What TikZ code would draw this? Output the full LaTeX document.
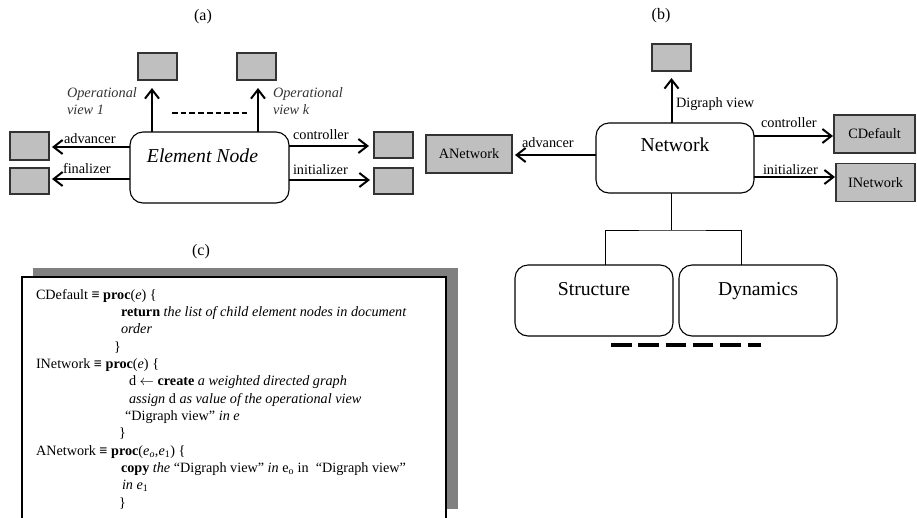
\documentclass[tikz,border=0pt]{standalone}
\usepackage{fontspec}
\setmainfont{Liberation Serif}
\usetikzlibrary{arrows.meta,calc}
\begin{document}
\begin{tikzpicture}[x=1pt,y=-1pt,
  every node/.style={inner sep=0pt, outer sep=0pt},
  small/.style={font=\fontsize{14.3}{17.3}\selectfont},
  bigf/.style={font=\fontsize{19.7}{23}\selectfont},
  capt/.style={font=\fontsize{16}{19}\selectfont},
  gbox/.style={draw=black!80, fill=black!25, line width=1.1pt, small},
  rbox/.style={draw=black, rounded corners=13pt, line width=1.1pt, bigf},
  conn/.style={line width=2pt, -{Straight Barb[length=9pt,width=14pt,line width=2pt]}},
  lnk/.style={line width=0.9pt},
  lbl/.style={small, anchor=base west},
  oplbl/.style={small, anchor=base west, text=black!80, font=\fontsize{14.3}{17.3}\selectfont\itshape},
  code/.style={font=\fontsize{14.2}{17.3}\selectfont, anchor=base west},
]
\useasboundingbox (0,0) rectangle (917,517);

% ---------------- (a) ----------------
\node[capt] (capa) at (203,17) {(a)};
\node[gbox, minimum width=39pt, minimum height=27pt] (at1) at (157.5,66.5) {};
\node[gbox, minimum width=39pt, minimum height=27pt] (at2) at (256.5,66.5) {};
\node[gbox, minimum width=39pt, minimum height=28pt] (al1) at (29.5,146) {};
\node[gbox, minimum width=39pt, minimum height=26pt] (al2) at (29.5,181) {};
\node[gbox, minimum width=39pt, minimum height=26pt] (ar1) at (393.5,145) {};
\node[gbox, minimum width=39pt, minimum height=26pt] (ar2) at (393.5,181) {};
\node[rbox, minimum width=159pt, minimum height=71pt, text height=30.5pt, text depth=40.5pt,
      font=\fontsize{19.7}{23}\selectfont\itshape] (ael) at (209.5,167.5) {\kern-14pt Element Node};

\draw[conn] (ael.north -| 152,0) -- ($(at1.south -| 152,0)+(0,8)$);
\draw[conn] (ael.north -| 258,0) -- ($(at2.south -| 258,0)+(0,8)$);
\draw[line width=2pt, dash pattern=on 5.7pt off 3pt] (172,113) -- (247,113);
\draw[conn] (ael.west |- 0,147) -- ($(al1.east |- 0,147)+(3,0)$);
\draw[conn] (ael.west |- 0,179) -- ($(al2.east |- 0,179)+(3,0)$);
\draw[conn] (ael.east |- 0,146) -- ($(ar1.west |- 0,146)+(-5,0)$);
\draw[conn] (ael.east |- 0,180) -- ($(ar2.west |- 0,180)+(-4,0)$);

\node[oplbl] (op1a) at (67,97) {Operational};
\node[oplbl] (op1b) at (67,114) {view 1};
\node[oplbl] (opka) at (273,97) {Operational};
\node[oplbl] (opkb) at (273,114) {view k};
\node[lbl] (aadv) at (64,143) {advancer};
\node[lbl] (afin) at (63,173) {finalizer};
\node[lbl] (acon) at (293,139.5) {controller};
\node[lbl] (aini) at (293,174) {initializer};

% ---------------- (b) ----------------
\node[capt] (capb) at (661,16) {(b)};
\node[gbox, minimum width=39pt, minimum height=27pt] (btop) at (671.5,57.5) {};
\node[gbox, minimum width=86pt, minimum height=38pt] (ban) at (469,154) {ANetwork};
\node[gbox, minimum width=81pt, minimum height=38pt] (bcd) at (874.5,134) {CDefault};
\node[gbox, minimum width=79pt, minimum height=38pt] (bin) at (875.5,182.5) {INetwork};
\node[rbox, minimum width=158pt, minimum height=70pt, text height=28.5pt, text depth=41.5pt] (bnet) at (675,158) {Network};
\node[rbox, minimum width=158pt, minimum height=71pt, text height=30pt, text depth=41pt] (bst) at (594,300.5) {Structure};
\node[rbox, minimum width=158pt, minimum height=71pt, text height=30pt, text depth=41pt] (bdy) at (758,300.5) {Dynamics};

\draw[conn] (bnet.north -| btop.south) -- ($(btop.south)+(0,7)$);
\draw[conn] (bnet.west |- 0,155) -- ($(ban.east |- 0,155)+(3,0)$);
\draw[conn] (bnet.east |- 0,136) -- ($(bcd.west |- 0,136)+(-1,0)$);
\draw[conn] (bnet.east |- 0,177) -- ($(bin.west |- 0,177)+(-1,0)$);
\draw[lnk] (bnet.south -| btop.south) -- ++(0,37) coordinate (bj);
\draw[lnk] (bst.north -| 605,0) |- (bj) -| (bdy.north -| 741,0);
\draw[line width=4pt, dash pattern=on 20.5pt off 6.8pt] (611,345) -- (761,345);

\node[lbl] (bdg) at (676,107) {Digraph view};
\node[lbl] (badv) at (522,147) {advancer};
\node[lbl] (bcon) at (761,127) {controller};
\node[lbl] (bini) at (763,174) {initializer};

% ---------------- (c) ----------------
\node[capt] (capc) at (201,252) {(c)};
\fill[black!50] (33,268) rectangle (458,509);
\filldraw[fill=white, draw=black, line width=1.3pt] (22,277) rectangle (446,530);

\node[code] (c1) at (36,299) {CDefault \textbf{≡} \textbf{proc}(\textit{e}) \{};
\node[code] (c2) at (121,316.3) {\textbf{return} \textit{the list of child element nodes in document}};
\node[code] (c3) at (121,333.7) {\textit{order}};
\node[code] (c4) at (114,351) {\}};
\node[code] (c5) at (36,368.3) {INetwork \textbf{≡} \textbf{proc}(\textit{e}) \{};
\node[code] (c6) at (129,385.7) {d $\leftarrow$ \textbf{create} \textit{a weighted directed graph}};
\node[code] (c7) at (129,403) {\textit{assign} d \textit{as value of the operational view}};
\node[code] (c8) at (125,420.3) {“Digraph view” \textit{in e}};
\node[code] (c9) at (119,437.7) {\}};
\node[code] (c10) at (36,455) {ANetwork \textbf{≡} \textbf{proc}(\textit{e}\textsubscript{\textit{o}},\textit{e}\textsubscript{1}) \{};
\node[code] (c11) at (121,472.3) {\textbf{copy} \textit{the} “Digraph view” \textit{in} e\textsubscript{o} in\ \ “Digraph view”};
\node[code] (c12) at (122,489.7) {\textit{in e}\textsubscript{1}};
\node[code] (c13) at (119,507) {\}};
\end{tikzpicture}
\end{document}
